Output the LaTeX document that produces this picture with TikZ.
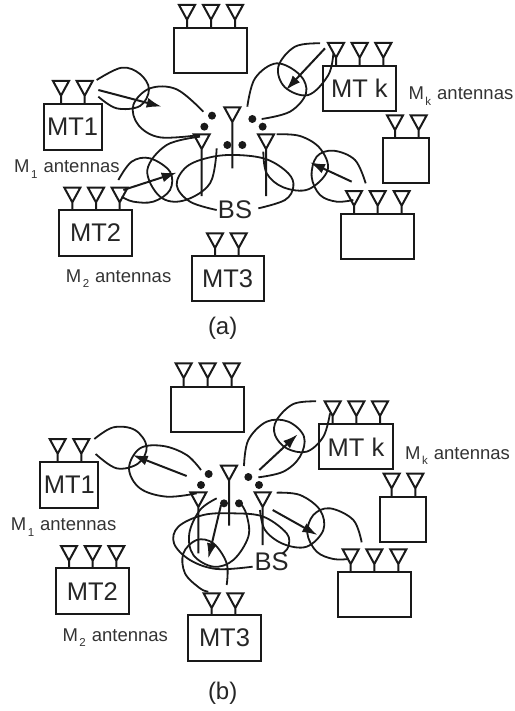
\documentclass[tikz,border=0pt]{standalone}
\usepackage{fontspec}
\setmainfont{Liberation Sans}
\usetikzlibrary{arrows.meta}
\tikzset{
  ln/.style={line width=1.8pt,color=black!90},
  mtbox/.style={ln,line width=2pt},
  mtlabel/.style={font=\fontsize{25.5}{25}\selectfont,color=black!85,inner sep=0pt},
  antcap/.style={font=\fontsize{18.5}{20}\selectfont,color=black!80,inner sep=0pt,anchor=base west},
  panelcap/.style={font=\fontsize{24}{24}\selectfont,color=black!85,inner sep=0pt},
  lobe/.style={ln,smooth,tension=.6},
  beam/.style={ln,line width=2pt,-{Latex[length=15pt,width=10pt]}}
}
\newcommand{\ant}[3]{%
  \draw[mtbox,line join=miter] (#1-24,#2)--(#1+24,#2)--(#1,#2+44)--cycle (#1,#2+44)--(#1,#3);}
\newcommand{\mt}[6]{\draw[mtbox] (#2,#3) rectangle (#4,#5) node[midway,mtlabel] (#1) {#6};}
\newcommand{\bsdots}[1]{\foreach \p in {#1} \fill[black!90] \p circle (12);}
\newcommand{\Msub}[1]{M\kern1.5pt\raisebox{-5.5pt}{\fontsize{11.5}{12}\selectfont #1}\kern6pt}
\begin{document}
\begin{tikzpicture}[x=0.33333pt,y=-0.33333pt]
\useasboundingbox (0,0) rectangle (1542,2133);
%---------- panel (a)
\begin{scope}
\mt{at}{522}{85}{742}{220}{}
\ant{561}{15}{85}\ant{633}{15}{85}\ant{705}{15}{85}
\mt{ak}{968}{198}{1188}{333}{MT k}
\ant{1008}{129}{198}\ant{1079}{129}{198}\ant{1150}{129}{198}
\mt{as}{1150}{415}{1288}{550}{}
\ant{1185}{346}{415}\ant{1256}{346}{415}
\mt{ar}{1023}{642}{1243}{778}{}
\ant{1062}{573}{642}\ant{1133}{573}{642}\ant{1205}{573}{642}
\mt{a3}{575}{767}{791}{903}{MT3}
\ant{645}{700}{767}\ant{716}{700}{767}
\mt{a2}{177}{630}{397}{767}{MT2}
\ant{217}{563}{630}\ant{288}{563}{630}\ant{359}{563}{630}
\mt{a1}{131}{313}{305}{449}{MT1}
\ant{183}{243}{313}\ant{254}{243}{313}
\ant{697}{322}{505}\ant{605}{403}{588}\ant{798}{403}{588}
\bsdots{(636,347),(613,380),(757,357),(788,380),(682,435),(727,435)}
\node[mtlabel] (abs) at (705,630) {BS};
\node[antcap] (am1) at (42,518) {\Msub{1}antennas};
\node[antcap] (am2) at (197,847) {\Msub{2}antennas};
\node[antcap] (amk) at (1225,300) {\Msub{k}antennas};
\node[panelcap] (acap) at (668,985) {(a)};
\draw[lobe] plot coordinates {(290,240)(365,203)(420,222)(447,268)(420,318)(350,325)(295,290)};
\draw[lobe] plot coordinates {(610,335)(530,268)(450,265)(400,315)(415,375)(480,412)(600,405)};
\draw[lobe] plot coordinates {(742,320)(765,235)(830,190)(900,225)(918,280)(870,335)(785,357)};
\draw[lobe] plot coordinates {(960,130)(885,140)(835,200)(855,262)(925,285)(985,225)(1000,160)};
\draw[lobe] plot coordinates {(600,410)(500,435)(442,510)(480,590)(550,602)(630,550)(650,445)};
\draw[lobe] plot coordinates {(355,540)(395,485)(450,475)(510,515)(510,570)(460,605)(400,605)(365,590)};
\draw[lobe] plot coordinates {(650,630)(570,605)(530,555)(560,500)(630,472)(710,465)(800,478)(865,520)(880,560)(855,600)(775,625)};
\draw[lobe] plot coordinates {(790,455)(800,520)(850,562)(925,568)(983,510)(960,445)(900,408)(830,403)};
\draw[lobe] plot coordinates {(1097,550)(1065,480)(1000,452)(950,470)(935,530)(960,585)(1010,605)(1060,600)};
\coordinate (aa1s) at (295,270); \coordinate (aa1e) at (485,320);
\coordinate (aaks) at (975,145); \coordinate (aake) at (858,270);
\coordinate (aa2s) at (370,570); \coordinate (aa2e) at (530,518);
\coordinate (aars) at (1055,545); \coordinate (aare) at (930,487);
\draw[beam] (aa1s)--(aa1e);
\draw[beam] (aaks)--(aake);
\draw[beam] (aa2s)--(aa2e);
\draw[beam] (aars)--(aare);
\end{scope}
%---------- panel (b): coordinates of the lower crop, origin 1020 lower
\begin{scope}[shift={(0,1020)}]
\mt{bt}{512}{140}{733}{275}{}
\ant{551}{70}{140}\ant{623}{70}{140}\ant{695}{70}{140}
\mt{bk}{958}{253}{1178}{388}{MT k}
\ant{998}{184}{253}\ant{1069}{184}{253}\ant{1140}{184}{253}
\mt{bs}{1140}{470}{1278}{605}{}
\ant{1175}{401}{470}\ant{1246}{401}{470}
\mt{br}{1013}{697}{1233}{832}{}
\ant{1052}{628}{697}\ant{1123}{628}{697}\ant{1195}{628}{697}
\mt{b3}{565}{826}{782}{963}{MT3}
\ant{635}{760}{826}\ant{706}{760}{826}
\mt{b2}{167}{685}{387}{822}{MT2}
\ant{207}{618}{685}\ant{278}{618}{685}\ant{349}{618}{685}
\mt{b1}{121}{367}{295}{503}{MT1}
\ant{173}{297}{367}\ant{244}{297}{367}
\ant{687}{377}{557}\ant{595}{457}{640}\ant{788}{457}{615}
\bsdots{(626,402),(603,435),(745,411),(777,435),(672,490),(717,490)}
\node[mtlabel] (bbs) at (815,665) {BS};
\node[antcap] (bm1) at (32,572) {\Msub{1}antennas};
\node[antcap] (bm2) at (187,903) {\Msub{2}antennas};
\node[antcap] (bmk) at (1215,358) {\Msub{k}antennas};
\node[panelcap] (bcap) at (668,1060) {(b)};
\draw[lobe] plot coordinates {(283,297)(340,262)(405,270)(440,320)(415,370)(350,385)(287,342)};
\draw[lobe] plot coordinates {(603,390)(560,345)(490,318)(420,325)(387,385)(420,445)(500,470)(590,460)};
\draw[lobe] plot coordinates {(732,378)(745,300)(800,245)(865,245)(912,290)(900,350)(850,395)(775,412)};
\draw[lobe] plot coordinates {(948,184)(880,192)(830,240)(825,285)(860,325)(920,335)(970,290)(990,220)};
\draw[lobe] plot coordinates {(830,458)(900,465)(960,510)(970,570)(920,620)(850,612)(795,570)(780,510)};
\draw[lobe] plot coordinates {(1085,607)(1060,540)(990,505)(940,525)(922,580)(950,635)(1000,657)(1045,657)};
\draw[lobe] plot coordinates {(758,680)(650,687)(570,660)(522,610)(535,560)(610,525)(700,520)(790,530)(860,580)(865,620)(848,640)};
\draw[lobe] plot coordinates {(650,475)(600,510)(568,580)(580,645)(640,680)(700,660)(745,590)(740,525)(722,490)};
\draw[lobe] plot coordinates {(680,735)(680,670)(640,610)(590,600)(550,640)(555,700)(600,745)(625,755)};
\coordinate (ba1s) at (560,408); \coordinate (ba1e) at (398,345);
\coordinate (baks) at (778,390); \coordinate (bake) at (893,283);
\coordinate (bars) at (818,510); \coordinate (bare) at (952,585);
\coordinate (ba3s) at (663,495); \coordinate (ba3e) at (625,655);
\draw[beam] (ba1s)--(ba1e);
\draw[beam] (baks)--(bake);
\draw[beam] (bars)--(bare);
\draw[beam] (ba3s)--(ba3e);
\end{scope}
\end{tikzpicture}
\end{document}
